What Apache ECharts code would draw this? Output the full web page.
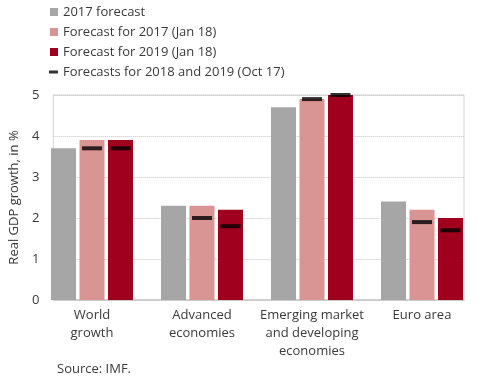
<!DOCTYPE html>
<html><head><meta charset="utf-8">
<script src="https://cdn.jsdelivr.net/npm/echarts@6/dist/echarts.min.js"></script>
<style>html,body{margin:0;padding:0;background:#fff}#c{width:490px;height:383px}</style>
</head><body><div id="c"></div>
<script>
const categories = ['World\ngrowth', 'Advanced\neconomies', 'Emerging market\nand developing\neconomies', 'Euro area'];
const forecast2017 = [3.7, 2.3, 4.7, 2.4];
const jan18First = [3.9, 2.3, 4.9, 2.2];
const jan18For2019 = [3.9, 2.2, 5.0, 2.0];
const oct17For2018 = [3.7, 2.0, 4.9, 1.9];
const oct17For2019 = [3.7, 1.8, 5.0, 1.7];
const yTicks = [0, 1, 2, 3, 4, 5];

const FONT = 'Open Sans';
const TXT = '#3a3a3a';
const chart = echarts.init(document.getElementById('c'));
const markerName = 'Forecasts for 2018 and 2019 (Oct 17)';
chart.setOption({
  animation: false,
  textStyle: { fontFamily: FONT },
  title: { text: 'Source: IMF.', left: 52, top: 358, textStyle: { fontSize: 13, fontWeight: 'normal', color: TXT, fontFamily: FONT } },
  legend: [
    { orient: 'vertical', left: 50, top: 2, padding: 0, itemWidth: 8, itemHeight: 8, itemGap: 0, icon: 'rect',
      textStyle: { fontSize: 13, lineHeight: 20, color: TXT, fontFamily: FONT },
      data: ['2017 forecast', 'Forecast for 2017 (Jan 18)', 'Forecast for 2019 (Jan 18)'] },
    { orient: 'vertical', left: 49, top: 62, padding: 0, itemWidth: 9, itemHeight: 3, icon: 'rect',
      textStyle: { fontSize: 13, lineHeight: 20, color: TXT, fontFamily: FONT },
      data: [markerName] }
  ],
  grid: [
    { left: 37, right: 13, top: 95, bottom: 83 },
    { left: 50, right: 26, top: 95, bottom: 83, show: true, borderColor: '#d4d4d4', borderWidth: 1 }
  ],
  xAxis: [
    { type: 'category', gridIndex: 0, data: categories,
      axisLine: { show: false }, axisTick: { show: false },
      axisLabel: { interval: 0, fontSize: 13, lineHeight: 18, color: TXT, margin: 6, fontFamily: FONT } },
    { type: 'value', gridIndex: 1, min: 0, max: 1, show: true,
      axisLine: { show: true, lineStyle: { color: '#c8c8c8', width: 1.5 } },
      axisTick: { show: false }, axisLabel: { show: false }, splitLine: { show: false } }
  ],
  yAxis: [
    { type: 'value', gridIndex: 0, min: 0, max: 5, interval: 1, show: false, splitLine: { show: false } },
    { type: 'value', gridIndex: 1, min: yTicks[0], max: yTicks[yTicks.length - 1], interval: 1,
      axisLine: { show: false }, axisTick: { show: false },
      axisLabel: { fontSize: 13, color: TXT, margin: 14, fontFamily: FONT },
      splitLine: { show: true, lineStyle: { color: '#c4c4c4', type: [1, 1], width: 1 } },
      name: 'Real GDP growth, in %', nameLocation: 'middle', nameGap: 26,
      nameTextStyle: { fontSize: 13, color: TXT, fontFamily: FONT } }
  ],
  series: [
    { name: '2017 forecast', type: 'bar', xAxisIndex: 0, yAxisIndex: 0, data: forecast2017,
      barWidth: 25, barGap: '14%', itemStyle: { color: '#a6a6a6' } },
    { name: 'Forecast for 2017 (Jan 18)', type: 'bar', xAxisIndex: 0, yAxisIndex: 0, data: jan18First,
      barWidth: 25, barGap: '14%', itemStyle: { color: '#d99594' } },
    { name: 'Forecast for 2019 (Jan 18)', type: 'bar', xAxisIndex: 0, yAxisIndex: 0, data: jan18For2019,
      barWidth: 25, barGap: '14%', itemStyle: { color: '#a0001e' } },
    { name: markerName, type: 'scatter', xAxisIndex: 0, yAxisIndex: 0, data: oct17For2018,
      symbol: 'rect', symbolSize: [20, 4], itemStyle: { color: '#000' }, z: 5 },
    { name: markerName, type: 'scatter', xAxisIndex: 0, yAxisIndex: 0, data: oct17For2019,
      symbol: 'rect', symbolSize: [20, 4], symbolOffset: [28.5, 0], itemStyle: { color: '#000' }, z: 5 }
  ]
});
</script></body></html>
